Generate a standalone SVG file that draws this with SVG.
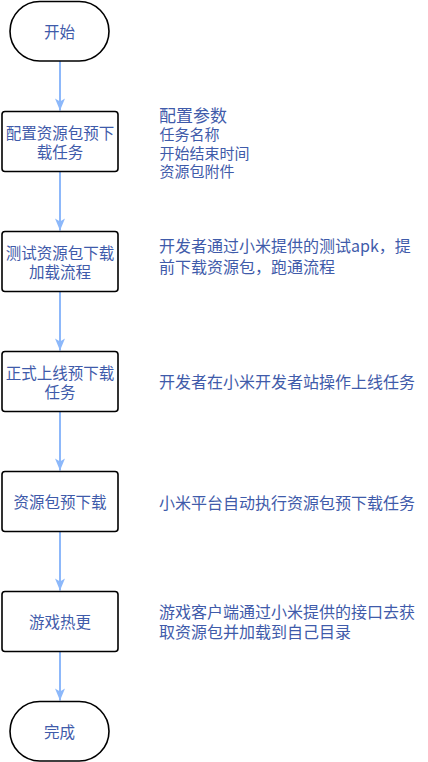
<svg xmlns="http://www.w3.org/2000/svg" width="428" height="762" viewBox="0 0 428 762">
<style>
.shape{fill:#ffffff;stroke:#000000;stroke-width:1.6}
.t{font-family:"Noto Sans CJK SC","Noto Sans",sans-serif;fill:#3F5BAA;dominant-baseline:central}
.c{font-size:15.5px;text-anchor:middle}
.n{font-size:16px}
.s{font-size:15px}
.h{font-size:17px}
.edge{stroke:#8DB8FA;stroke-width:2;fill:none}
</style>
<defs>
<marker id="arr" markerUnits="userSpaceOnUse" markerWidth="14" markerHeight="12" viewBox="0 0 14 12" refX="13" refY="6" orient="auto">
<path d="M1,1 L13,6 L1,11 L4,6 Z" fill="#8DB8FA"/>
</marker>
</defs>
<rect width="428" height="762" fill="#ffffff"/>
<g id="connectors">
<line class="edge" x1="60" y1="61" x2="60" y2="110.5" marker-end="url(#arr)"/>
<line class="edge" x1="60" y1="172" x2="60" y2="230.5" marker-end="url(#arr)"/>
<line class="edge" x1="60" y1="292" x2="60" y2="350.5" marker-end="url(#arr)"/>
<line class="edge" x1="60" y1="412" x2="60" y2="470.5" marker-end="url(#arr)"/>
<line class="edge" x1="60" y1="532" x2="60" y2="590.5" marker-end="url(#arr)"/>
<line class="edge" x1="60" y1="652" x2="60" y2="700.5" marker-end="url(#arr)"/>
</g>
<g id="start">
<rect class="shape" x="10" y="1.5" width="99" height="59.5" rx="29.75" ry="29.75"/>
<text class="t c" x="59.5" y="31">开始</text>
</g>
<g id="step1">
<rect class="shape" x="2" y="111.5" width="116" height="60" rx="3"/>
<text class="t c" x="60" y="131.5">配置资源包预下<tspan x="60" y="150.5">载任务</tspan></text>
</g>
<g id="step2">
<rect class="shape" x="2" y="231.5" width="116" height="60" rx="3"/>
<text class="t c" x="60" y="251.5">测试资源包下载<tspan x="60" y="270.5">加载流程</tspan></text>
</g>
<g id="step3">
<rect class="shape" x="2" y="351.5" width="116" height="60" rx="3"/>
<text class="t c" x="60" y="371.5">正式上线预下载<tspan x="60" y="390.5">任务</tspan></text>
</g>
<g id="step4">
<rect class="shape" x="2" y="471.5" width="116" height="60" rx="3"/>
<text class="t c" x="60" y="501">资源包预下载</text>
</g>
<g id="step5">
<rect class="shape" x="2" y="591.5" width="116" height="60" rx="3"/>
<text class="t c" x="60" y="621">游戏热更</text>
</g>
<g id="end">
<rect class="shape" x="10" y="701.5" width="99" height="59.5" rx="29.75" ry="29.75"/>
<text class="t c" x="59.5" y="731">完成</text>
</g>
<g id="note1">
<text class="t s" x="159.5" y="114"><tspan class="h" x="159" y="114">配置参数</tspan><tspan x="159.5" y="133">任务名称</tspan><tspan x="159.5" y="151.5">开始结束时间</tspan><tspan x="159.5" y="170">资源包附件</tspan></text>
</g>
<g id="note2">
<text class="t n" x="159" y="245">开发者通过小米提供的测试apk，提<tspan x="159" y="265.5">前下载资源包，跑通流程</tspan></text>
</g>
<g id="note3">
<text class="t n" x="159" y="381">开发者在小米开发者站操作上线任务</text>
</g>
<g id="note4">
<text class="t n" x="159" y="501.5">小米平台自动执行资源包预下载任务</text>
</g>
<g id="note5">
<text class="t n" x="159" y="610.5">游戏客户端通过小米提供的接口去获<tspan x="159" y="630.5">取资源包并加载到自己目录</tspan></text>
</g>
</svg>
